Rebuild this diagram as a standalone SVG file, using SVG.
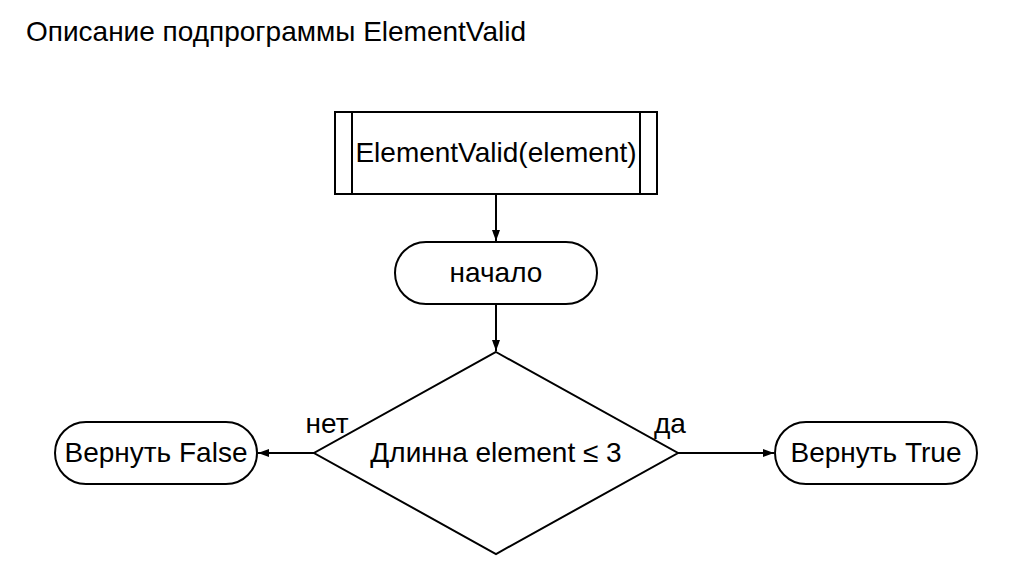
<svg xmlns="http://www.w3.org/2000/svg" width="1009" height="580" viewBox="0 0 1009 580">
<style>
.s{fill:#fff;stroke:#000;stroke-width:2}
.t{font-family:"Liberation Sans",Arial,sans-serif;font-size:28px;fill:#000;text-anchor:middle}
.c{fill:none;stroke:#000;stroke-width:2}
</style>
<defs>
<marker id="a" markerWidth="12" markerHeight="10" refX="11" refY="5" orient="auto" markerUnits="userSpaceOnUse">
<path d="M0,1 L11,5 L0,9 Z" fill="#000"/>
</marker>
</defs>
<rect width="1009" height="580" fill="#fff"/>
<text x="26" y="41" class="t" style="text-anchor:start">Описание подпрограммы ElementValid</text>
<g id="connectors">
<line class="c" x1="496" y1="194" x2="496" y2="241" marker-end="url(#a)"/>
<line class="c" x1="496" y1="304" x2="496" y2="351" marker-end="url(#a)"/>
<line class="c" x1="314" y1="453" x2="258" y2="453" marker-end="url(#a)"/>
<line class="c" x1="678" y1="453" x2="774" y2="453" marker-end="url(#a)"/>
<text x="327" y="433" class="t">нет</text>
<text x="670" y="433" class="t">да</text>
</g>
<g id="sub">
<rect class="s" x="335" y="112" width="322" height="82"/>
<line class="c" x1="352" y1="112" x2="352" y2="194"/>
<line class="c" x1="640" y1="112" x2="640" y2="194"/>
<text x="496" y="162" class="t">ElementValid(element)</text>
</g>
<g id="start">
<rect class="s" x="395" y="242" width="202" height="62" rx="31"/>
<text x="496" y="282" class="t">начало</text>
</g>
<g id="cond">
<path class="s" d="M496,352 L678,453 L496,554 L314,453 Z"/>
<text x="496" y="462" class="t">Длинна element ≤ 3</text>
</g>
<g id="false">
<rect class="s" x="55" y="422" width="202" height="62" rx="31"/>
<text x="156" y="462" class="t">Вернуть False</text>
</g>
<g id="true">
<rect class="s" x="775" y="422" width="202" height="62" rx="31"/>
<text x="876" y="462" class="t">Вернуть True</text>
</g>
</svg>
